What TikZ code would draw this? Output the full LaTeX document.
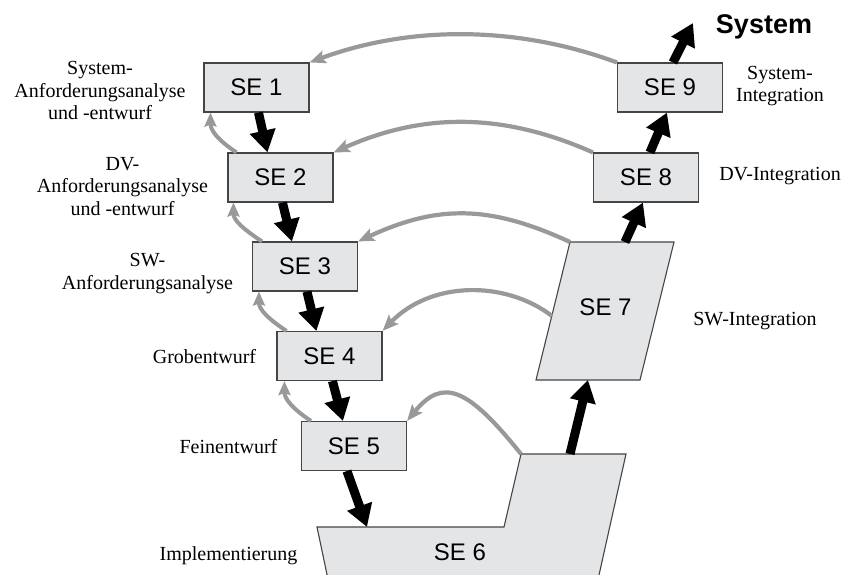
\documentclass[tikz,border=0pt]{standalone}
\usepackage{fontspec}
\setmainfont{Liberation Serif}
\setsansfont{Liberation Sans}
\usetikzlibrary{arrows.meta,calc}
\definecolor{boxfill}{HTML}{E4E5E7}
\definecolor{boxline}{HTML}{454545}
\definecolor{fbgray}{HTML}{999999}
\begin{document}
\begin{tikzpicture}[x=1pt,y=-1pt,
  sebox/.style={draw=boxline, fill=boxfill, line width=1.1pt, minimum width=105pt, minimum height=49pt, inner sep=0pt, font=\sffamily\fontsize{24}{28}\selectfont},
  shapesix/.style={draw=boxline, fill=boxfill, line width=1.1pt},
  flow/.style={line width=9pt, -{Triangle[length=22pt,width=25pt]}},
  back/.style={draw=fbgray, line width=4.2pt, -{Stealth[length=16pt,width=13pt,inset=3pt]}},
  backsmall/.style={draw=fbgray, line width=4pt, -{Stealth[length=14pt,width=12pt,inset=2pt]}},
  lbl/.style={font=\fontsize{20}{22.5}\selectfont, align=center, inner sep=0pt},
  setext/.style={font=\sffamily\fontsize{24}{28}\selectfont, inner sep=0pt},
]
\useasboundingbox (0,0) rectangle (843,574);
\clip (0,0) rectangle (843,574);

% SE6 (stepped shape)
\coordinate (s6a) at (317,527);
\coordinate (s6in) at (367,527);
\coordinate (s6b) at (504,527);
\coordinate (s6step) at (521,454);
\coordinate (s6out) at (570,454);
\coordinate (s6c) at (626,454);
\coordinate (s6d) at (597,584);
\coordinate (s6e) at (329,584);
\draw[shapesix] (s6a) -- (s6b) -- (s6step) -- (s6c) -- (s6d) -- (s6e) -- cycle;
\node[setext] (se6) at (460,552.5) {SE 6};

% SE7 (parallelogram)
\coordinate (s7tl) at (570,242);
\coordinate (s7tr) at (674,242);
\coordinate (s7br) at (640,380);
\coordinate (s7bl) at (536,380);
\coordinate (s7left) at (552,316);
\coordinate (s7in) at (588,380);
\coordinate (s7out) at (625,242);
\draw[shapesix] (s7tl) -- (s7tr) -- (s7br) -- (s7bl) -- cycle;
\node[setext] (se7) at (605.5,307.5) {SE 7};

% boxes
\node[sebox] (se1) at (256.5,87.5) {SE 1};
\node[sebox] (se2) at (280.5,177.5) {SE 2};
\node[sebox] (se3) at (305,266.5) {SE 3};
\node[sebox] (se4) at (329.5,356) {SE 4};
\node[sebox] (se5) at (354,446) {SE 5};
\node[sebox] (se8) at (646,177.5) {SE 8};
\node[sebox] (se9) at (670,87.5) {SE 9};

% title
\node[anchor=base, font=\sffamily\bfseries\fontsize{27}{30}\selectfont, inner sep=0pt] (sys) at (764,33) {System};
\coordinate (systip) at (693,23);

% labels
\node[lbl] (l1) at (100,90.5) {System-\\Anforderungsanalyse\\und -entwurf};
\node[lbl] (l2) at (122.5,186.5) {DV-\\Anforderungsanalyse\\und -entwurf};
\node[lbl] (l3) at (147.5,273.7) {SW-\\Anforderungsanalyse};
\node[lbl,anchor=base] (l4) at (204.5,363) {Grobentwurf};
\node[lbl,anchor=base] (l5) at (228.5,453) {Feinentwurf};
\node[lbl,anchor=base] (l6) at (228.5,560) {Implementierung};
\node[lbl] (r9) at (780,86) {System-\\Integration};
\node[lbl,anchor=base] (r8) at (780,180) {DV-Integration};
\node[lbl,anchor=base] (r7) at (755,325) {SW-Integration};

% black flow arrows
\draw[flow] ($(se1.south west)+(55,0)$) -- ($(se2.north west)+(40,0)$);
\draw[flow] ($(se2.south west)+(55,0)$) -- ($(se3.north west)+(40,0)$);
\draw[flow] ($(se3.south west)+(55,0)$) -- ($(se4.north west)+(40,0)$);
\draw[flow] ($(se4.south west)+(56,0)$) -- ($(se5.north west)+(42,0)$);
\draw[flow] ($(se5.south west)+(46,0)$) -- (s6in);
\draw[flow] (s6out) -- (s7in);
\draw[flow] (s7out) -- ($(se8.south west)+(50,0)$);
\draw[flow] ($(se8.north west)+(57,0)$) -- ($(se9.south west)+(50,0)$);
\draw[flow] ($(se9.north west)+(56,0)$) -- (systip);

% grey feedback arcs
\draw[back] (se9.north west) .. controls +(-100,-37) and +(100,-37) .. (se1.north east);
\draw[back] (se8.north west) .. controls +(-90,-40) and +(90,-40) .. (se2.north east);
\draw[back] (s7tl) .. controls +(-80,-37) and +(80,-37) .. (se3.north east);
\draw[back] (s7left) .. controls +(-47,-36) and +(48,-50) .. (se4.north east);
\draw[back] (s6step) .. controls +(-53,-66) and +(36,-44) .. (se5.north east);

% small grey back arrows
\draw[backsmall] ($(se2.north west)+(9,0)$) .. controls +(-18,-12) and +(0,18) .. ($(se1.south west)+(7,0)$);
\draw[backsmall] ($(se3.north west)+(10,0)$) .. controls +(-18,-12) and +(0,18) .. ($(se2.south west)+(6,0)$);
\draw[backsmall] ($(se4.north west)+(10,0)$) .. controls +(-18,-12) and +(0,18) .. ($(se3.south west)+(7,0)$);
\draw[backsmall] ($(se5.north west)+(10,0)$) .. controls +(-18,-12) and +(0,18) .. ($(se4.south west)+(8,0)$);
\end{tikzpicture}
\end{document}
